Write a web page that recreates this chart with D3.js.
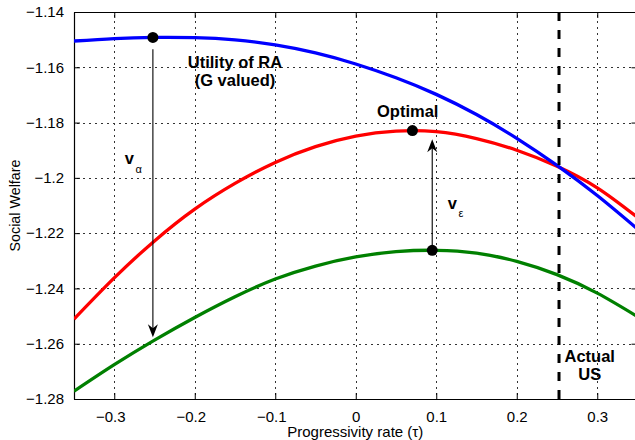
<!DOCTYPE html>
<html>
<head>
<meta charset="utf-8">
<script src="https://cdn.jsdelivr.net/npm/d3@7"></script>
<style>
  html, body { margin: 0; padding: 0; background: #fff; }
  svg { display: block; font-family: "Liberation Sans", Arial, Helvetica, sans-serif; }
</style>
</head>
<body>
<svg id="chart" width="635" height="440"></svg>
<script>
// ---- data ----
const tau = [-0.35, -0.30, -0.25, -0.20, -0.15, -0.10, -0.05, 0.00, 0.05, 0.10, 0.15, 0.20, 0.25, 0.30, 0.35];
const utilityRA = [-1.1505, -1.1496, -1.1492, -1.1493, -1.1501, -1.1519, -1.1548, -1.1588, -1.1638, -1.1698, -1.1771, -1.1857, -1.1955, -1.2064, -1.2185];
const optimalW  = [-1.2511, -1.2362, -1.2228, -1.2113, -1.2020, -1.1944, -1.1887, -1.1849, -1.1831, -1.1833, -1.1858, -1.1900, -1.1958, -1.2036, -1.2143];
const lowerW    = [-1.2772, -1.2676, -1.2587, -1.2505, -1.2430, -1.2366, -1.2319, -1.2286, -1.2267, -1.2262, -1.2272, -1.2302, -1.2350, -1.2417, -1.2502];
const markerTau = [-0.252, 0.0704, 0.095];
const markerW   = [-1.1492, -1.1829, -1.2262];
const actualUS = 0.2525;
const xTicks = [-0.3, -0.2, -0.1, 0, 0.1, 0.2, 0.3];
const yTicks = [-1.28, -1.26, -1.24, -1.22, -1.2, -1.18, -1.16, -1.14];
const xLabel = "Progressivity rate (τ)";
const yLabel = "Social Welfare";

// ---- layout ----
const svg = d3.select("#chart");
const x = d3.scaleLinear().domain([-0.35, 0.35]).range([74, 637.5]);
const y = d3.scaleLinear().domain([-1.28, -1.14]).range([399, 12]);
const X0 = x.range()[0], X1 = x.range()[1], Y0 = y.range()[0], Y1 = y.range()[1];

svg.append("defs").append("clipPath").attr("id", "plotclip")
  .append("rect").attr("x", X0).attr("y", Y1).attr("width", X1 - X0).attr("height", Y0 - Y1);

// grid (dotted) — short dots along each tick line
const grid = svg.append("g").attr("class", "grid").attr("fill", "#333");
const step = 6;
const vDots = [];
xTicks.forEach(t => {
  const px = Math.round(x(t));
  d3.range(Y1 + 3, Y0 - 2, step).forEach(py => vDots.push({ x: px, y: Math.round(py), w: 1, h: 2 }));
});
const hDots = [];
yTicks.filter(d => d > -1.279 && d < -1.141).forEach(v => {
  const py = Math.round(y(v));
  d3.range(X0 + 3, 635, step).forEach(px => hDots.push({ x: Math.round(px), y: py, w: 2, h: 1 }));
});
grid.selectAll("rect").data(vDots.concat(hDots)).join("rect")
  .attr("x", d => d.x).attr("y", d => d.y).attr("width", d => d.w).attr("height", d => d.h);

// axes (ticks inside, box on)
const fmt = d => d3.format("")(d).replace("-", "−");
const axB = svg.append("g").attr("transform", `translate(0,${Y0})`)
  .call(d3.axisBottom(x).tickValues(xTicks).tickSizeInner(-6).tickSizeOuter(0).tickPadding(12).tickFormat(fmt));
axB.selectAll("text").attr("dx", d => d < 0 ? -4 : 0);
const axL = svg.append("g").attr("transform", `translate(${X0},0)`)
  .call(d3.axisLeft(y).tickValues(yTicks).tickSizeInner(-6).tickSizeOuter(0).tickPadding(10).tickFormat(fmt));
const axT = svg.append("g").attr("transform", `translate(0,${Y1})`)
  .call(d3.axisTop(x).tickValues(xTicks).tickSizeInner(-6).tickSizeOuter(0).tickFormat(""));
const axR = svg.append("g").attr("transform", `translate(${X1},0)`)
  .call(d3.axisRight(y).tickValues(yTicks).tickSizeInner(-6).tickSizeOuter(0).tickFormat(""));
[axB, axL, axT, axR].forEach(a => {
  a.selectAll("path.domain").attr("stroke", "#000").attr("stroke-width", 1.2);
  a.selectAll(".tick line").attr("stroke", "#000").attr("stroke-width", 1);
  a.selectAll("text").attr("font-size", 15).attr("fill", "#000")
    .attr("font-family", "'Liberation Sans', Arial, sans-serif");
});

// axis labels
svg.append("text").attr("x", (X0 + 637.5) / 2 - 0.5).attr("y", 437)
  .attr("text-anchor", "middle").attr("font-size", 15).text(xLabel);
svg.append("text").attr("transform", `translate(20,${(Y0 + Y1) / 2}) rotate(-90)`)
  .attr("text-anchor", "middle").attr("font-size", 14.3).text(yLabel);

// curves
const plot = svg.append("g").attr("clip-path", "url(#plotclip)");
const line = d3.line().x(d => x(d[0])).y(d => y(d[1])).curve(d3.curveNatural);
const series = [
  { vals: lowerW, color: "#008000" },
  { vals: optimalW, color: "#ff0000" },
  { vals: utilityRA, color: "#0000ff" }
];
plot.selectAll("path.curve").data(series).join("path")
  .attr("class", "curve")
  .attr("d", s => line(tau.map((t, i) => [t, s.vals[i]])))
  .attr("fill", "none").attr("stroke", s => s.color).attr("stroke-width", 3.3);

// Actual US dashed line
plot.append("line")
  .attr("x1", x(actualUS)).attr("x2", x(actualUS)).attr("y1", Y1).attr("y2", Y0)
  .attr("stroke", "#000").attr("stroke-width", 3).attr("stroke-dasharray", "9,9");

// arrows
function arrow(xv, fromV, toV) {
  const px = x(xv), y1 = y(fromV), y2 = y(toV);
  const dir = y2 > y1 ? 1 : -1;
  svg.append("line").attr("x1", px).attr("x2", px).attr("y1", y1).attr("y2", y2 - dir * 6)
    .attr("stroke", "#000").attr("stroke-width", 1.1);
  svg.append("path")
    .attr("d", `M${px},${y2} L${px - 5},${y2 - dir * 13} L${px},${y2 - dir * 9} L${px + 5},${y2 - dir * 13} Z`)
    .attr("fill", "#000");
}
arrow(markerTau[0], -1.1535, -1.2577);
arrow(markerTau[2], markerW[2], -1.1860);

// markers
svg.selectAll("circle.mk").data(markerTau).join("circle")
  .attr("class", "mk")
  .attr("cx", d => x(d)).attr("cy", (d, i) => y(markerW[i])).attr("r", 5.5).attr("fill", "#000");

// annotations
const ann = svg.append("g").attr("font-weight", "bold").attr("font-size", 16.5).attr("fill", "#000");
ann.append("text").attr("x", x(-0.150)).attr("y", y(-1.1604)).attr("text-anchor", "middle").text("Utility of RA");
ann.append("text").attr("x", x(-0.150)).attr("y", y(-1.1668)).attr("text-anchor", "middle").text("(G valued)");
ann.append("text").attr("x", x(0.0646)).attr("y", y(-1.1779)).attr("text-anchor", "middle").text("Optimal");
ann.append("text").attr("x", x(0.2907)).attr("y", y(-1.2665)).attr("text-anchor", "middle").text("Actual");
ann.append("text").attr("x", x(0.2907)).attr("y", y(-1.2731)).attr("text-anchor", "middle").text("US");

function vlabel(xv, yv, sub) {
  const t = svg.append("text").attr("x", x(xv)).attr("y", y(yv)).attr("fill", "#000");
  t.append("tspan").attr("font-weight", "bold").attr("font-size", 16.5).text("v");
  t.append("tspan").attr("font-size", 11).attr("dx", 1.5).attr("dy", 8.5).text(sub);
}
vlabel(-0.287, -1.1950, "α");
vlabel(0.1143, -1.2111, "ε");
</script>
</body>
</html>
